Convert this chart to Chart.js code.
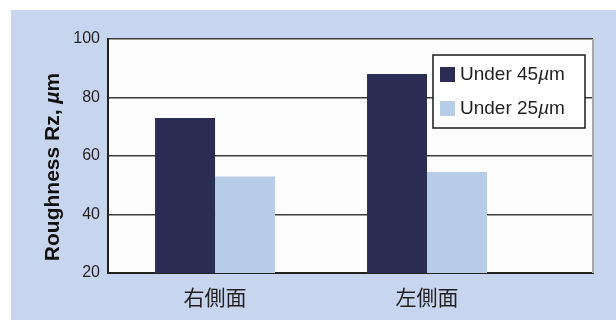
<!DOCTYPE html>
<html>
<head>
<meta charset="utf-8">
<script src="https://cdn.jsdelivr.net/npm/chart.js@4/dist/chart.umd.min.js"></script>
<style>
  body { margin: 0; background: #ffffff; }
  #panel { position: absolute; left: 11px; top: 10px; width: 605px; height: 310px; background: #c7d6ee; }
</style>
</head>
<body>
<div id="panel"><canvas id="roughChart" width="605" height="310"></canvas></div>
<script>
const sides = ['右側面', '左側面'];
const under45 = [73, 88];
const under25 = [53, 54.5];
const yTicks = [20, 40, 60, 80, 100];
const yTitle = 'Roughness Rz, µm';

const txtColor = '#231f20';
const sansFont = "'Liberation Sans', Arial, sans-serif";

// split a label so the mu can be set in italics
const muParts = (label) => {
    const i = label.indexOf('µ');
    return [[label.slice(0, i), ''], ['µ', 'italic '], [label.slice(i + 1), '']];
};

const drawParts = (ctx, parts, x, y, weight, size) => {
    parts.forEach(([t, style]) => {
        ctx.font = style + weight + ' ' + size + 'px ' + sansFont;
        ctx.fillText(t, x, y);
        x += ctx.measureText(t).width;
    });
};

const partsWidth = (ctx, parts, weight, size) => parts.reduce((sum, [t, style]) => {
    ctx.font = style + weight + ' ' + size + 'px ' + sansFont;
    return sum + ctx.measureText(t).width;
}, 0);

// white plot box with a grey right edge
const plotFrame = {
    id: 'plotFrame',
    beforeDraw(chart) {
        const { ctx, chartArea: a } = chart;
        ctx.save();
        ctx.fillStyle = '#fdfdfd';
        ctx.fillRect(a.left, a.top, a.right - a.left, a.bottom - a.top);
        ctx.restore();
    },
    afterDraw(chart) {
        const { ctx, chartArea: a } = chart;
        ctx.save();
        ctx.strokeStyle = '#a8a8a8';
        ctx.lineWidth = 2;
        ctx.beginPath();
        ctx.moveTo(a.right, a.top);
        ctx.lineTo(a.right, a.bottom);
        ctx.stroke();
        ctx.restore();
    }
};

// rotated axis title
const axisTitle = {
    id: 'axisTitle',
    afterDraw(chart) {
        const { ctx, chartArea: a } = chart;
        const parts = muParts(yTitle);
        const size = 21;
        const w = partsWidth(ctx, parts, 'bold', size);
        ctx.save();
        ctx.translate(42, (a.top + a.bottom) / 2 + 11);
        ctx.rotate(-Math.PI / 2);
        ctx.fillStyle = '#111111';
        ctx.textBaseline = 'middle';
        drawParts(ctx, parts, -w / 2, 0, 'bold', size);
        ctx.restore();
    }
};

// boxed legend
const boxLegend = {
    id: 'boxLegend',
    afterDraw(chart) {
        const { ctx, chartArea: a } = chart;
        const w = 152, h = 73;
        const x0 = a.right - 8 - w, y0 = a.top + 16;
        ctx.save();
        ctx.fillStyle = '#ffffff';
        ctx.fillRect(x0, y0, w, h);
        ctx.strokeStyle = '#1a1a1a';
        ctx.lineWidth = 1.5;
        ctx.strokeRect(x0, y0, w, h);
        ctx.textBaseline = 'middle';
        chart.data.datasets.forEach((ds, k) => {
            const cy = y0 + 19 + k * 34;
            ctx.fillStyle = ds.backgroundColor;
            ctx.fillRect(x0 + 7, cy - 7, 15, 15);
            ctx.fillStyle = txtColor;
            drawParts(ctx, muParts(ds.label), x0 + 27, cy + 1, 'normal', 19);
        });
        ctx.restore();
    }
};

const toPoints = (vals) => vals.map((v, i) => ({ x: i, y: v }));

new Chart(document.getElementById('roughChart'), {
    type: 'bar',
    data: {
        datasets: [{
            label: 'Under 45µm',
            data: toPoints(under45),
            backgroundColor: '#2c2d55'
        }, {
            label: 'Under 25µm',
            data: toPoints(under25),
            backgroundColor: '#b7cce7'
        }]
    },
    options: {
        responsive: false,
        animation: false,
        categoryPercentage: 0.566,
        barPercentage: 1.0,
        layout: { padding: { top: 29, right: 23, left: 0, bottom: 0 } },
        plugins: {
            legend: { display: false },
            tooltip: { enabled: false }
        },
        scales: {
            x: {
                type: 'linear',
                offset: false,
                min: -0.505,
                max: 1.783,
                afterFit: (s) => { s.height = 47; },
                afterBuildTicks: (s) => { s.ticks = sides.map((c, i) => ({ value: i })); },
                grid: { display: false, drawTicks: false },
                border: { display: true, color: '#222222', width: 2 },
                ticks: {
                    padding: 11,
                    color: txtColor,
                    font: { family: "'Noto Sans CJK JP', sans-serif", size: 21 },
                    callback: (v) => sides[v]
                }
            },
            y: {
                min: 20,
                max: 100,
                afterFit: (s) => { s.width = 97; },
                afterBuildTicks: (s) => { s.ticks = yTicks.map((v) => ({ value: v })); },
                grid: { color: '#3c3c3c', lineWidth: 1.5, drawTicks: false },
                border: { display: true, color: '#222222', width: 2 },
                ticks: {
                    padding: 8,
                    color: txtColor,
                    font: { family: sansFont, size: 16 }
                }
            }
        }
    },
    plugins: [plotFrame, axisTitle, boxLegend]
});
</script>
</body>
</html>
